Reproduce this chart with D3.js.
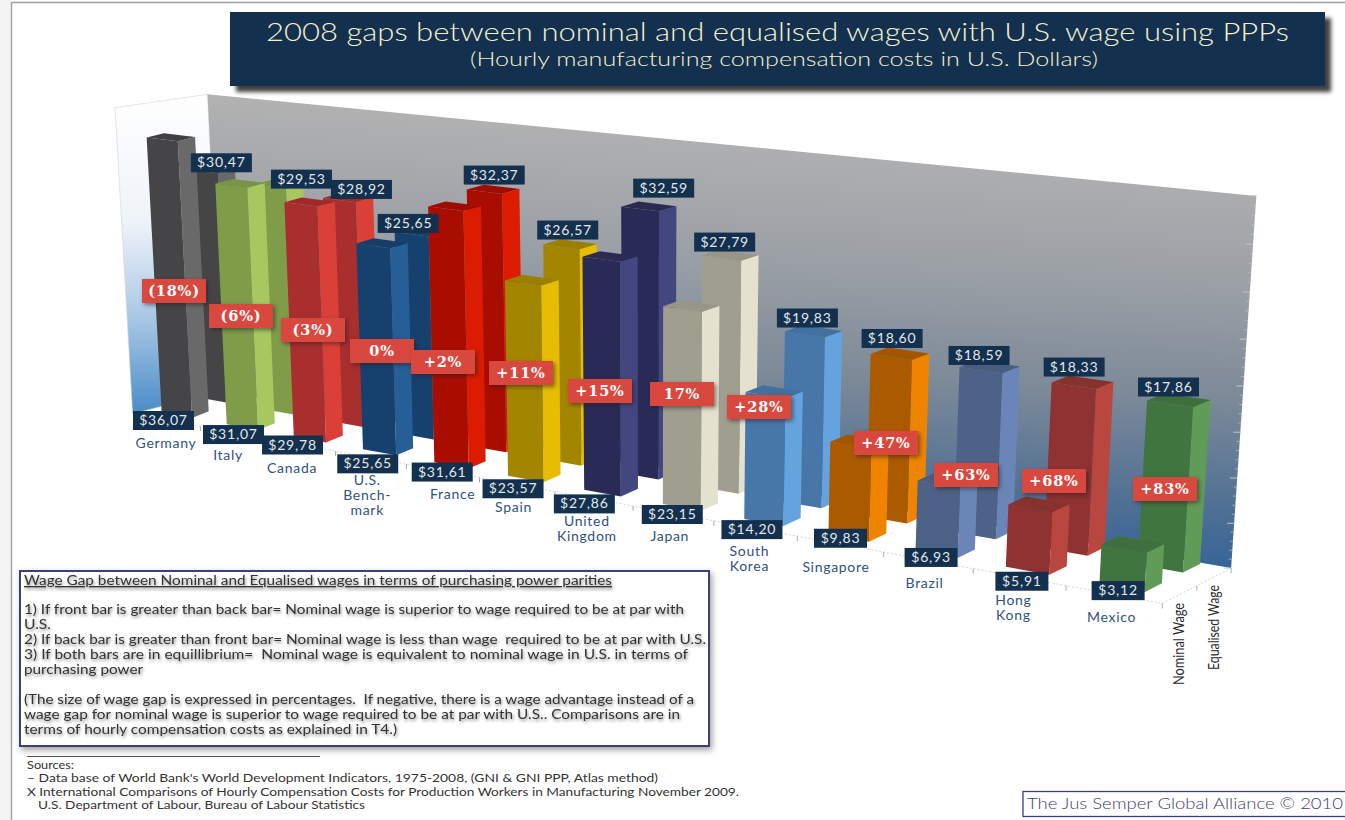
<!DOCTYPE html>
<html>
<head>
<meta charset="utf-8">
<script src="https://cdn.jsdelivr.net/npm/d3@7"></script>
<style>
  html, body { margin: 0; padding: 0; background: #fff; }
  svg { display: block; }
  text { font-family: Lato, "Open Sans", sans-serif; }
</style>
</head>
<body>
<svg width="1345" height="820"></svg>
<script>
//Data
const categories = ['Germany','Italy','Canada','U.S. Bench-mark','France','Spain','United Kingdom','Japan','South Korea','Singapore','Brazil','Hong Kong','Mexico'];
const nominalWage = [36.07,31.07,29.78,25.65,31.61,23.57,27.86,23.15,14.20,9.83,6.93,5.91,3.12];
const equalisedWage = [30.47,29.53,28.92,25.65,32.37,26.57,32.59,27.79,19.83,18.60,18.59,18.33,17.86];
const gapLabels = ['(18%)','(6%)','(3%)','0%','+2%','+11%','+15%','17%','+28%','+47%','+63%','+68%','+83%'];
const seriesNames = ['Nominal Wage','Equalised Wage'];
const frontColors = ['#454547','#7f9c48','#a92e2e','#15406e','#a81000','#a38600','#2b2c57','#a09e8e','#4677a8','#ac5a00','#4e6286','#8e3330','#41753f'];
const sideColors = ['#69696b','#a7c75e','#da4039','#265f96','#dc1e00','#e6bd00','#434680','#e4e1cf','#65a3de','#ee8400','#6b86b8','#b9473f','#609c58'];

const svg = d3.select('svg');

//Hand placed annotations, the original has them nudged by hand too
const gapBoxX = [174,241,313,382,443,521,600,682,759,886,966,1054,1165];
const gapBoxY = [291,316,330,351,362,373,391,394,407,443,475,481,489];
const frontNudge = [[2,0],[6,2],[-3,0],[2,6],[4,1],[0,4],[-6,5],[2,1],[-1,1],[-2,-6],[0,-3],[-1,4],[0,-4]];
const backNudge = [[7,9],[20,10],[11,7],[-14,7],[0,1],[-3,1],[15,-3],[-5,2],[-5,2],[-6,0],[-8,4],[-5,0],[-6,2]];
const nameNudge = [6,2,-2,3,16,2,-2,1,-2,-1,-1,-4,-1];

//Scales: category -> X along the floor, series -> Z depth, wage -> height
const xScale = d3.scalePoint().domain(categories).range([0,12]);
const zScale = d3.scalePoint().domain(seriesNames).range([0,1]);
const yScale = d3.scaleLinear().domain([0,41]).range([1.5,42.5]);

const barWidth = 0.47, barDepth = 0.45;
const wallRight = 12.3, wallFront = -0.3, wallBack = 1.5, wallTop = 42.8;

//Perspective camera, fitted by eye to the 3D chart
const project = (X, Y, Z) => {
    const w = 1 - 0.0151*X - 0.0008*Y + 0.0059*Z;
    const sx = 192 + 62.1*X - 0.52*Y + 38.35*Z;
    const sy = 418 + 5.57*X + (-7.48 + 0.11*Z)*Y - 12.6*Z;
    return [sx/w, sy/w];
};
const line = pts => 'M' + pts.map(p => project(p[0],p[1],p[2]).join(',')).join('L') + 'Z';

//Gradients and filters
const defs = svg.append('defs');
const addGrad = (id, attrs, stops) => {
    const g = defs.append('linearGradient').attr('id',id);
    Object.entries(attrs).forEach(([k,v]) => g.attr(k,v));
    stops.forEach(s => g.append('stop').attr('offset',s[0]).attr('stop-color',s[1]));
};
addGrad('backWall',{gradientUnits:'userSpaceOnUse',x1:760,y1:125,x2:735,y2:570},
    [[0,'#b2b2b2'],[0.3,'#9ba0a6'],[0.55,'#7d8a98'],[0.8,'#4f7094'],[1,'#2b5f98']]);
addGrad('leftWall',{x1:0,y1:0,x2:0,y2:1},
    [[0,'#ffffff'],[0.4,'#eef3f9'],[0.7,'#a8c8e4'],[1,'#4a8cc8']]);
defs.append('filter').attr('id','soft').append('feGaussianBlur').attr('stdDeviation',0.6);

//Page border
svg.append('rect').attr('x',0).attr('y',0).attr('width',11).attr('height',820).attr('fill','#f3f3f3');
svg.append('path').attr('d','M11.5,820V2.5H1345').attr('fill','none').attr('stroke','#a0a0a0').attr('stroke-width',1.4);

//Title
svg.append('rect').attr('x',230).attr('y',12).attr('width',1095).attr('height',74)
    .attr('fill','#13304f').style('filter','drop-shadow(6px 6px 2px rgba(30,30,30,.85))');
svg.append('text').attr('x',266).attr('y',41).attr('font-size',26).attr('font-weight',300).attr('fill','#f5f1cc')
    .attr('textLength',1023).attr('lengthAdjust','spacingAndGlyphs')
    .text('2008 gaps between nominal and equalised wages with U.S. wage using PPPs');
svg.append('text').attr('x',470).attr('y',66).attr('font-size',20.5).attr('font-weight',300).attr('fill','#f5f1cc')
    .attr('textLength',628).attr('lengthAdjust','spacingAndGlyphs')
    .text('(Hourly manufacturing compensation costs in U.S. Dollars)');

//Walls
const chart = svg.append('g').attr('filter','url(#soft)');
const walls = svg.insert('g','g');
walls.append('path')
    .attr('d',line([[-0.75,41.6,wallFront],[-0.39,41.6,wallBack],[-0.39,0,wallBack],[-0.75,0,wallFront]]))
    .attr('fill','url(#leftWall)').attr('stroke','#d4d4d4').attr('stroke-width',0.6);
walls.append('path')
    .attr('d',line([[-0.39,41.6,wallBack],[wallRight,wallTop,wallBack],[wallRight,0,wallBack],[-0.39,0,wallBack]]))
    .attr('fill','url(#backWall)');

//Ticks on the value wall
const tickScale = d3.scaleLinear().domain([0,40]).range([0,wallTop]);
d3.range(0,41).forEach(t => {
    const major = t%5===0;
    const a = project(wallRight,tickScale(t),wallBack);
    walls.append('line').attr('x1',a[0]).attr('y1',a[1]).attr('x2',a[0]-(major?7:3)).attr('y2',a[1])
        .attr('stroke','#c4c4c4').attr('stroke-width',major?1:0.7);
});

//Dotted floor edges with their ticks
const dotted = (p,q) => {
    const a = project(...p), b = project(...q);
    walls.append('line').attr('x1',a[0]).attr('y1',a[1]).attr('x2',b[0]).attr('y2',b[1])
        .attr('stroke','#d4d4d4').attr('stroke-dasharray','2,2');
};
dotted([-0.7,0,wallFront],[wallRight,0,wallFront]);
dotted([wallRight,0,wallFront],[wallRight,0,wallBack]);
d3.range(0,13).forEach(i => {
    const a = project(i+0.3,0,wallFront);
    walls.append('line').attr('x1',a[0]).attr('y1',a[1]).attr('x2',a[0]).attr('y2',a[1]+5).attr('stroke','#aaa');
});
[0.6,wallBack].forEach(z => {
    const a = project(wallRight,0,z);
    walls.append('line').attr('x1',a[0]).attr('y1',a[1]).attr('x2',a[0]).attr('y2',a[1]+5).attr('stroke','#aaa');
});

//Bars, back row first
const drawRow = (name, values) => {
    const Z = zScale(name);
    const row = chart.append('g').attr('class',name).selectAll('g')
        .data(categories).enter().append('g');
    const corners = (c,i) => ({X:xScale(c), H:yScale(values[i])});
    row.append('path')
        .attr('d',(c,i) => { const {X,H} = corners(c,i);
            return line([[X,0,Z],[X,H,Z],[X,H,Z+barDepth],[X,0,Z+barDepth]]); })
        .attr('fill',(c,i) => sideColors[i]);
    row.append('path')
        .attr('d',(c,i) => { const {X,H} = corners(c,i);
            return line([[X-barWidth,0,Z],[X-barWidth,H,Z],[X,H,Z],[X,0,Z]]); })
        .attr('fill',(c,i) => frontColors[i]);
    row.append('path')
        .attr('d',(c,i) => { const {X,H} = corners(c,i);
            return line([[X-barWidth,H,Z],[X-barWidth,H,Z+barDepth],[X,H,Z+barDepth],[X,H,Z]]); })
        .attr('fill',(c,i) => d3.color(frontColors[i]).darker(0.15));
};
drawRow('Equalised Wage',equalisedWage);
drawRow('Nominal Wage',nominalWage);

//Value boxes
const valueFormat = v => '$' + v.toFixed(2).replace('.',',');
const valueBox = (g, x, y, w, v) => {
    g.append('rect').attr('x',x).attr('y',y).attr('width',w).attr('height',19).attr('fill','#14304f');
    g.append('text').attr('x',x+w/2).attr('y',y+14).attr('text-anchor','middle')
        .attr('font-size',14).attr('letter-spacing',0.8).attr('fill','#e3e8ea').text(valueFormat(v));
};
const labels = svg.append('g');
categories.forEach((c,i) => {
    const X = xScale(c);
    const top = project(X-barWidth,yScale(equalisedWage[i]),zScale('Equalised Wage'));
    valueBox(labels, top[0]-3+backNudge[i][0], top[1]-25+backNudge[i][1], 61, equalisedWage[i]);
    const base = project(X,0,0);
    const w = nominalWage[i] < 10 ? 53 : 61;
    valueBox(labels, base[0]-w+frontNudge[i][0], base[1]-7+frontNudge[i][1], w, nominalWage[i]);
});

//Category names
const nameLines = {'U.S. Bench-mark':['U.S.','Bench-','mark'],'United Kingdom':['United','Kingdom'],'South Korea':['South','Korea'],'Hong Kong':['Hong','Kong']};
categories.forEach((c,i) => {
    const base = project(xScale(c),0,0);
    const t = labels.append('text').attr('text-anchor','middle').attr('font-size',14)
        .attr('letter-spacing',0.7).attr('fill','#2f5280');
    (nameLines[c] || [c]).forEach((s,k) => {
        t.append('tspan').attr('x',base[0]-32+nameNudge[i]).attr('y',base[1]+30+k*15).text(s);
    });
});

//Gap badges
gapLabels.forEach((s,i) => {
    const w = 64, h = 24;
    labels.append('rect').attr('x',gapBoxX[i]-w/2).attr('y',gapBoxY[i]-h/2).attr('width',w).attr('height',h)
        .attr('fill','#d9483f').style('filter','drop-shadow(2px 2px 2px rgba(40,30,30,.55))');
    labels.append('text').attr('x',gapBoxX[i]).attr('y',gapBoxY[i]+5).attr('text-anchor','middle')
        .attr('font-size',14.5).attr('font-weight','bold').attr('letter-spacing',0.8)
        .attr('fill','#fff').style('font-family','"DejaVu Serif", serif').text(s);
});

//Series names on the floor edge
[['Nominal Wage',1184,685,82],['Equalised Wage',1219,670,85]].forEach(d => {
    labels.append('text').attr('transform',`translate(${d[1]},${d[2]}) rotate(-90)`)
        .attr('font-size',15).attr('fill','#2a2a2a').attr('textLength',d[3])
        .attr('lengthAdjust','spacingAndGlyphs').text(d[0]);
});

//Explanation box
svg.append('rect').attr('x',20).attr('y',571).attr('width',689).attr('height',175)
    .attr('fill','#fff').attr('stroke','#3c3f78').attr('stroke-width',2)
    .style('filter','drop-shadow(2px 3px 3px rgba(60,60,60,.5))');
const boxLines = [
    ['Wage Gap between Nominal and Equalised wages in terms of purchasing power parities',585,588],
    ['1) If front bar is greater than back bar= Nominal wage is superior to wage required to be at par with',614,660],
    ['U.S.',629,27],
    ['2) If back bar is greater than front bar= Nominal wage is less than wage  required to be at par with U.S.',644,682],
    ['3) If both bars are in equillibrium=  Nominal wage is equivalent to nominal wage in U.S. in terms of',659,664],
    ['purchasing power',674,119],
    ['(The size of wage gap is expressed in percentages.  If negative, there is a wage advantage instead of a',704,670],
    ['wage gap for nominal wage is superior to wage required to be at par with U.S.. Comparisons are in',719,656],
    ['terms of hourly compensation costs as explained in T4.)',734,373]
];
boxLines.forEach((d,i) => {
    svg.append('text').attr('x',24).attr('y',d[1]).attr('font-size',13.5).attr('fill','#333')
        .style('white-space','pre')
        .attr('textLength',d[2]).attr('lengthAdjust','spacingAndGlyphs')
        .attr('text-decoration',i===0?'underline':null)
        .style('filter','drop-shadow(1px 2px 1.5px rgba(0,0,0,.45))').text(d[0]);
});

//Sources
svg.append('line').attr('x1',27).attr('x2',320).attr('y1',756.5).attr('y2',756.5).attr('stroke','#555');
[['Sources:',27,769,47],
 ["– Data base of World Bank's World Development Indicators, 1975-2008, (GNI & GNI PPP, Atlas method)",27,782,631],
 ['X International Comparisons of Hourly Compensation Costs for Production Workers in Manufacturing November 2009.',27,796,712],
 ['U.S. Department of Labour, Bureau of Labour Statistics',38,809,327]].forEach(d => {
    svg.append('text').attr('x',d[1]).attr('y',d[2]).attr('font-size',12).attr('fill','#333')
        .attr('textLength',d[3]).attr('lengthAdjust','spacingAndGlyphs').text(d[0]);
});

//Footer
svg.append('rect').attr('x',1023).attr('y',791.5).attr('width',323).attr('height',25)
    .attr('fill','#fff').attr('stroke','#3c3f78').attr('stroke-width',1.3);
svg.append('text').attr('x',1027).attr('y',809).attr('font-size',16).attr('font-weight',300).attr('fill','#3c3f78')
    .attr('textLength',316).attr('lengthAdjust','spacingAndGlyphs').text('The Jus Semper Global Alliance © 2010');
</script>
</body>
</html>
